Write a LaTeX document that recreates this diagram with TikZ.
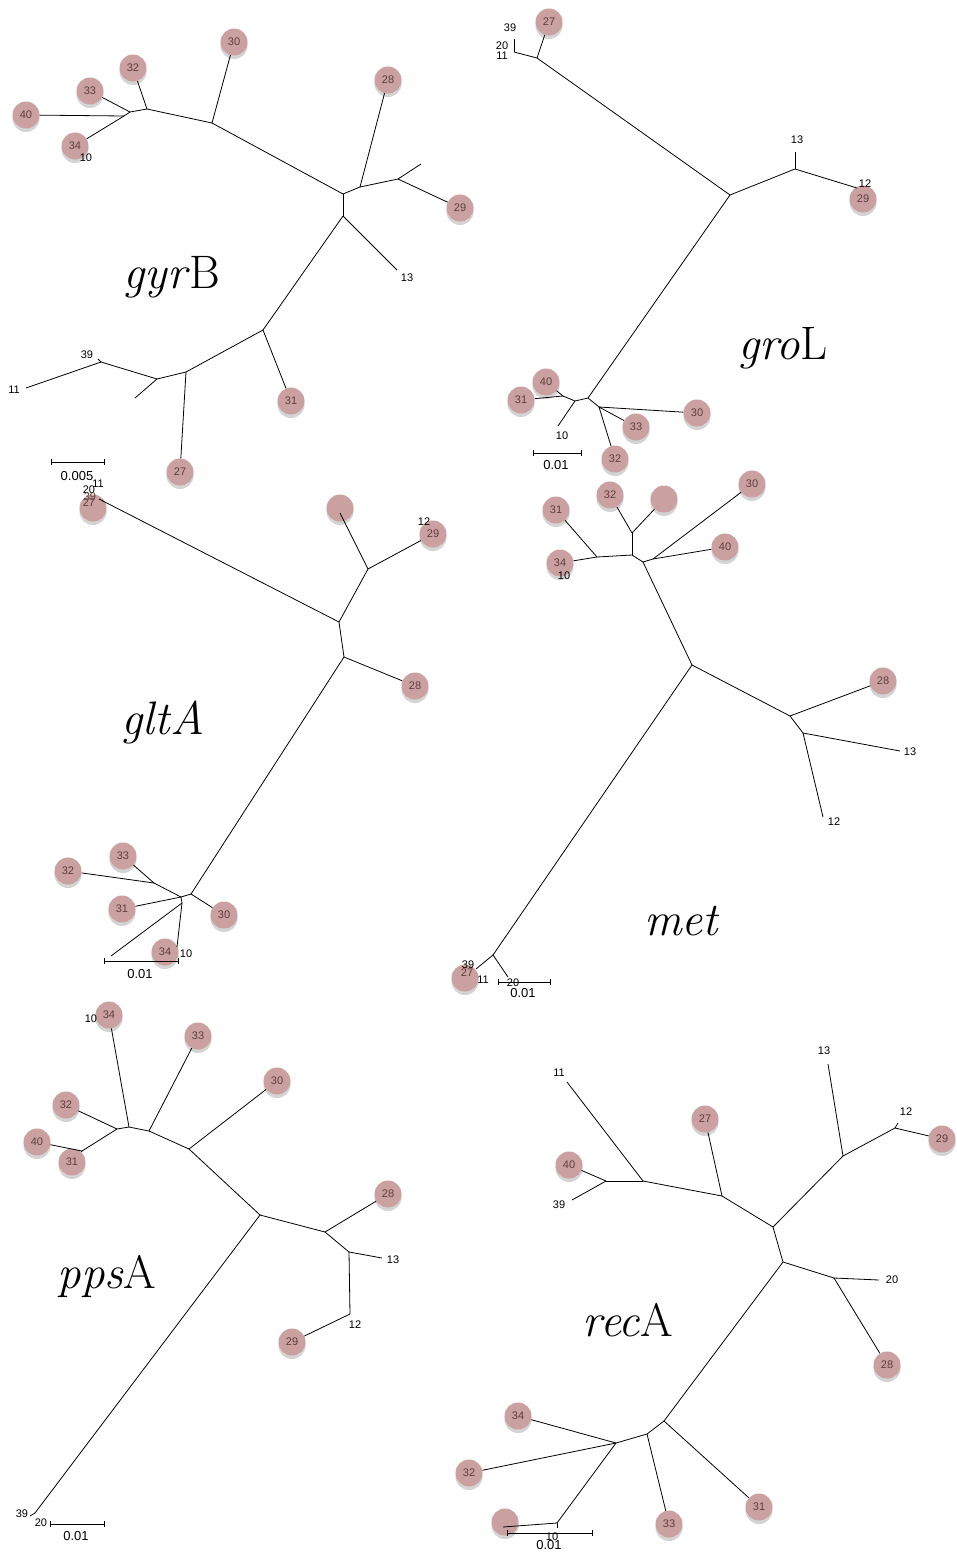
\documentclass[tikz,border=0pt]{standalone}
\usepackage{fontspec}
\setsansfont{Liberation Sans}
\usetikzlibrary{shadows}
\definecolor{leafpink}{RGB}{203,160,160}
\definecolor{leafshade}{RGB}{212,212,212}
\definecolor{leaftext}{RGB}{95,62,62}
\newcommand{\labfont}{\fontsize{11}{12}\selectfont\sffamily}
\newcommand{\scalefont}{\fontsize{13}{14}\selectfont\sffamily}
\newcommand{\genefont}{\fontsize{47}{52}\selectfont}
\tikzset{
  leaf/.style={circle, fill=leafpink, minimum size=27pt, inner sep=0pt, font=\labfont, text=leaftext,
    drop shadow={shadow xshift=0pt, shadow yshift=-3.5pt, fill=leafshade, opacity=1}},
  branch/.style={line width=0.8pt, black},
  tiplab/.style={font=\labfont, inner sep=0pt, text=black},
  intlab/.style={font=\labfont, inner sep=0pt, text=leaftext},
  scalelab/.style={font=\scalefont, inner sep=0pt, text=black},
  gene/.style={font=\genefont, inner sep=0pt},
  sbar/.style={line width=0.8pt, black},
}
\begin{document}
\begin{tikzpicture}[x=1pt,y=-1pt]
\useasboundingbox (0,0) rectangle (956,1553);
\fill[white] (0,0) rectangle (956,1553);

% ================= gyrB =================
\node[leaf] (gy30) at (234,42) {30};
\node[leaf] (gy32) at (133,68) {32};
\node[leaf] (gy33) at (90,91) {33};
\node[leaf] (gy40) at (26,115) {40};
\node[leaf] (gy34) at (75,146) {34};
\node[leaf] (gy28) at (388,80) {28};
\node[leaf] (gy29) at (460,208) {29};
\node[leaf] (gy31) at (291,401) {31};
\node[leaf] (gy27) at (180,472) {27};
\coordinate (gyA) at (124,116);
\coordinate (gyB) at (130,112);
\coordinate (gyC) at (147,109);
\coordinate (gyD) at (212,123);
\coordinate (gyE) at (343,194);
\coordinate (gyG) at (360,187);
\coordinate (gyH) at (398,179);
\coordinate (gyU) at (421,164);
\coordinate (gyI) at (343,216);
\coordinate (gyT13) at (397,270);
\coordinate (gyJ) at (263,330);
\coordinate (gyK) at (186,372);
\coordinate (gyL) at (157,379);
\coordinate (gyU2) at (135,398);
\coordinate (gyM) at (101,362);
\coordinate (gyT39) at (98,359);
\coordinate (gyT11) at (26,388);
\draw[branch] (gy40) -- (gyA); \draw[branch] (gy34) -- (gyA);
\draw[branch] (gyA) -- (gyB); \draw[branch] (gy33) -- (gyB);
\draw[branch] (gyB) -- (gyC); \draw[branch] (gy32) -- (gyC);
\draw[branch] (gyC) -- (gyD); \draw[branch] (gy30) -- (gyD);
\draw[branch] (gyD) -- (gyE); \draw[branch] (gyE) -- (gyG);
\draw[branch] (gyG) -- (gy28); \draw[branch] (gyG) -- (gyH);
\draw[branch] (gyH) -- (gyU); \draw[branch] (gyH) -- (gy29);
\draw[branch] (gyE) -- (gyI); \draw[branch] (gyI) -- (gyT13);
\draw[branch] (gyI) -- (gyJ); \draw[branch] (gyJ) -- (gy31);
\draw[branch] (gyJ) -- (gyK); \draw[branch] (gyK) -- (gy27);
\draw[branch] (gyK) -- (gyL); \draw[branch] (gyL) -- (gyU2);
\draw[branch] (gyL) -- (gyM); \draw[branch] (gyM) -- (gyT39);
\draw[branch] (gyM) -- (gyT11);
\node[tiplab] (gyl10) at (86,158) {10};
\node[tiplab] (gyl13) at (407,278) {13};
\node[tiplab] (gyl39) at (87,355) {39};
\node[tiplab] (gyl11) at (14,390) {11};
\node[gene] (gyname) at (172,277) {\textit{gyr}B};
\coordinate (gySa) at (51,462); \coordinate (gySb) at (104,462);
\draw[sbar] (gySa) -- (gySb);
\draw[sbar] ([yshift=3pt]gySa) -- ([yshift=-3pt]gySa);
\draw[sbar] ([yshift=3pt]gySb) -- ([yshift=-3pt]gySb);
\node[scalelab] (gyscale) at (77,476) {0.005};

% ================= groL =================
\node[leaf] (gr27) at (549,22) {27};
\node[leaf] (gr29) at (863,199) {29};
\node[leaf] (gr40) at (546,382) {40};
\node[leaf] (gr31) at (521,400) {31};
\node[leaf] (gr30) at (697,413) {30};
\node[leaf] (gr33) at (636,427) {33};
\node[leaf] (gr32) at (615,459) {32};
\coordinate (grA) at (514,52);
\coordinate (grT39) at (514,39);
\coordinate (grB) at (537,58);
\coordinate (grC) at (730,195);
\coordinate (grD) at (795,169);
\coordinate (grT13) at (795,152);
\coordinate (grT12) at (857,188);
\coordinate (grE) at (588,398);
\coordinate (grF) at (575,401);
\coordinate (grG) at (563,396);
\coordinate (grT10) at (558,426);
\coordinate (grH) at (599,407);
\draw[branch] (grA) -- (grT39); \draw[branch] (grA) -- (grB);
\draw[branch] (grB) -- (gr27); \draw[branch] (grB) -- (grC);
\draw[branch] (grC) -- (grD); \draw[branch] (grD) -- (grT13);
\draw[branch] (grD) -- (grT12); \draw[branch] (grC) -- (grE);
\draw[branch] (grE) -- (grF); \draw[branch] (grF) -- (grG);
\draw[branch] (grG) -- (gr40); \draw[branch] (grG) -- (gr31);
\draw[branch] (grF) -- (grT10); \draw[branch] (grE) -- (grH);
\draw[branch] (grH) -- (gr30); \draw[branch] (grH) -- (gr33);
\draw[branch] (grH) -- (gr32);
\node[tiplab] (grl39) at (510,28) {39};
\node[tiplab] (grl20) at (502,46) {20};
\node[tiplab] (grl11) at (502,56) {11};
\node[tiplab] (grl13) at (797,140) {13};
\node[tiplab] (grl12) at (865,184) {12};
\node[tiplab] (grl10) at (562,436) {10};
\node[gene] (grname) at (783,348) {\textit{gro}L};
\coordinate (grSa) at (533,453); \coordinate (grSb) at (581,453);
\draw[sbar] (grSa) -- (grSb);
\draw[sbar] ([yshift=3pt]grSa) -- ([yshift=-3pt]grSa);
\draw[sbar] ([yshift=3pt]grSb) -- ([yshift=-3pt]grSb);
\node[scalelab] (grscale) at (556,465) {0.01};

% ================= gltA =================
\node[leaf] (gl27) at (93,508) {};
\node[leaf] (glU) at (340,508) {};
\node[leaf] (gl29) at (433,534) {29};
\node[leaf] (gl28) at (415,686) {28};
\node[leaf] (gl33) at (123,856) {33};
\node[leaf] (gl32) at (68,871) {32};
\node[leaf] (gl31) at (122,909) {31};
\node[leaf] (gl30) at (224,915) {30};
\node[leaf] (gl34) at (165,952) {34};
\coordinate (glT) at (99,499);
\coordinate (glTU) at (340,513);
\coordinate (glB) at (339,622);
\coordinate (glC) at (368,569);
\coordinate (glD) at (344,657);
\coordinate (glE) at (191,894);
\coordinate (glF) at (181,897);
\coordinate (glG) at (154,883);
\coordinate (glH) at (182,903);
\coordinate (glTu) at (111,956);
\coordinate (glT10) at (177,947);
\draw[branch] (glT) -- (glB); \draw[branch] (glB) -- (glC);
\draw[branch] (glC) -- (glTU); \draw[branch] (glC) -- (gl29);
\draw[branch] (glB) -- (glD); \draw[branch] (glD) -- (gl28);
\draw[branch] (glD) -- (glE); \draw[branch] (glE) -- (gl30);
\draw[branch] (glE) -- (glF); \draw[branch] (glF) -- (glG);
\draw[branch] (glG) -- (gl33); \draw[branch] (glG) -- (gl32);
\draw[branch] (glF) -- (gl31); \draw[branch] (glF) -- (glH);
\draw[branch] (glH) -- (glTu); \draw[branch] (glH) -- (glT10);
\node[tiplab] (gll11) at (98,484) {11};
\node[tiplab] (gll20) at (89,490) {20};
\node[intlab] (gll39) at (90,497) {39};
\node[intlab] (gll27) at (89,503) {27};
\node[tiplab] (gll12) at (424,522) {12};
\node[tiplab] (gll10) at (186,954) {10};
\node[gene] (glname) at (163,723) {\textit{gltA}};
\coordinate (glSa) at (104,961); \coordinate (glSb) at (178,961);
\draw[sbar] (glSa) -- (glSb);
\draw[sbar] ([yshift=3pt]glSa) -- ([yshift=-3pt]glSa);
\draw[sbar] ([yshift=3pt]glSb) -- ([yshift=-3pt]glSb);
\node[scalelab] (glscale) at (140,974) {0.01};

% ================= met =================
\node[leaf] (me30) at (752,484) {30};
\node[leaf] (me32) at (610,495) {32};
\node[leaf] (meU) at (664,499) {};
\node[leaf] (me31) at (556,510) {31};
\node[leaf] (me34) at (560,563) {34};
\node[leaf] (me40) at (725,547) {40};
\node[leaf] (me28) at (883,681) {28};
\node[leaf] (me27) at (465,978) {};
\coordinate (meA) at (597,557);
\coordinate (meB) at (632,555);
\coordinate (meC) at (632,533);
\coordinate (meD) at (643,562);
\coordinate (meE) at (653,559);
\coordinate (meF) at (692,665);
\coordinate (meG) at (790,716);
\coordinate (meH) at (803,733);
\coordinate (meT13) at (900,751);
\coordinate (meT12) at (823,817);
\coordinate (meI) at (493,955);
\coordinate (meT20) at (508,977);
\coordinate (meT39) at (476,969);
\draw[branch] (meA) -- (me31); \draw[branch] (meA) -- (me34);
\draw[branch] (meA) -- (meB); \draw[branch] (meB) -- (meC);
\draw[branch] (meC) -- (me32); \draw[branch] (meC) -- (meU);
\draw[branch] (meB) -- (meD); \draw[branch] (meD) -- (meE);
\draw[branch] (meE) -- (me30); \draw[branch] (meE) -- (me40);
\draw[branch] (meD) -- (meF); \draw[branch] (meF) -- (meG);
\draw[branch] (meG) -- (me28); \draw[branch] (meG) -- (meH);
\draw[branch] (meH) -- (meT13); \draw[branch] (meH) -- (meT12);
\draw[branch] (meF) -- (meI); \draw[branch] (meI) -- (meT20);
\draw[branch] (meI) -- (meT39);
\node[tiplab] (mel10) at (564,576) {10};
\node[tiplab] (mel13) at (910,752) {13};
\node[tiplab] (mel12) at (834,822) {12};
\node[tiplab] (mel39) at (468,965) {39};
\node[intlab] (mel27) at (467,973) {27};
\node[tiplab] (mel11) at (483,980) {11};
\node[gene] (mename) at (682,921) {\textit{met}};
\coordinate (meSa) at (498,982); \coordinate (meSb) at (550,982);
\draw[sbar] (meSa) -- (meSb);
\draw[sbar] ([yshift=3pt]meSa) -- ([yshift=-3pt]meSa);
\draw[sbar] ([yshift=3pt]meSb) -- ([yshift=-3pt]meSb);
\node[tiplab] (mel20) at (513,983) {20};
\node[scalelab] (mescale) at (523,993) {0.01};

% ================= ppsA =================
\node[leaf] (pp34) at (109,1015) {34};
\node[leaf] (pp33) at (198,1036) {33};
\node[leaf] (pp30) at (277,1081) {30};
\node[leaf] (pp32) at (66,1105) {32};
\node[leaf] (pp40) at (37,1142) {40};
\node[leaf] (pp31) at (72,1162) {31};
\node[leaf] (pp28) at (388,1194) {28};
\node[leaf] (pp29) at (292,1342) {29};
\coordinate (ppA) at (82,1151);
\coordinate (ppB) at (117,1129);
\coordinate (ppC) at (129,1127);
\coordinate (ppD) at (149,1131);
\coordinate (ppE) at (189,1149);
\coordinate (ppF) at (260,1215);
\coordinate (ppG) at (325,1232);
\coordinate (ppH) at (349,1252);
\coordinate (ppT13) at (382,1258);
\coordinate (ppI) at (350,1314);
\coordinate (ppJ) at (35,1513);
\coordinate (ppT39) at (30,1516);
\draw[branch] (ppA) -- (pp40); \draw[branch] (ppA) -- (pp31);
\draw[branch] (ppA) -- (ppB); \draw[branch] (ppB) -- (pp32);
\draw[branch] (ppB) -- (ppC); \draw[branch] (ppC) -- (pp34);
\draw[branch] (ppC) -- (ppD); \draw[branch] (ppD) -- (pp33);
\draw[branch] (ppD) -- (ppE); \draw[branch] (ppE) -- (pp30);
\draw[branch] (ppE) -- (ppF); \draw[branch] (ppF) -- (ppG);
\draw[branch] (ppG) -- (pp28); \draw[branch] (ppG) -- (ppH);
\draw[branch] (ppH) -- (ppT13); \draw[branch] (ppH) -- (ppI);
\draw[branch] (ppI) -- (pp29); \draw[branch] (ppF) -- (ppJ);
\draw[branch] (ppJ) -- (ppT39);
\node[tiplab] (ppl10) at (91,1019) {10};
\node[tiplab] (ppl13) at (393,1260) {13};
\node[tiplab] (ppl12) at (355,1325) {12};
\node[tiplab] (ppl39) at (22,1514) {39};
\node[tiplab] (ppl20) at (41,1523) {20};
\node[gene] (ppname) at (107,1276) {\textit{pps}A};
\coordinate (ppSa) at (50,1524); \coordinate (ppSb) at (104,1524);
\draw[sbar] (ppSa) -- (ppSb);
\draw[sbar] ([yshift=3pt]ppSa) -- ([yshift=-3pt]ppSa);
\draw[sbar] ([yshift=3pt]ppSb) -- ([yshift=-3pt]ppSb);
\node[scalelab] (ppscale) at (76,1536) {0.01};

% ================= recA =================
\node[leaf] (re27) at (705,1119) {27};
\node[leaf] (re29) at (942,1139) {29};
\node[leaf] (re40) at (569,1165) {40};
\node[leaf] (re28) at (887,1365) {28};
\node[leaf] (re31) at (759,1507) {31};
\node[leaf] (re33) at (669,1524) {33};
\node[leaf] (re34) at (518,1416) {34};
\node[leaf] (re32) at (469,1473) {32};
\node[leaf] (reU) at (505,1522) {};
\coordinate (reA) at (606,1181);
\coordinate (reB) at (643,1181);
\coordinate (reC) at (722,1196);
\coordinate (reD) at (773,1227);
\coordinate (reE) at (783,1262);
\coordinate (reF) at (834,1278);
\coordinate (reG) at (843,1156);
\coordinate (reH) at (895,1128);
\coordinate (reT11) at (567,1082);
\coordinate (reT13) at (828,1064);
\coordinate (reT12) at (898,1123);
\coordinate (reT39) at (572,1200);
\coordinate (reT20) at (879,1280);
\coordinate (reI) at (664,1421);
\coordinate (reJ) at (647,1434);
\coordinate (reK) at (616,1443);
\coordinate (reL) at (557,1523);
\coordinate (reT10) at (557,1528);
\coordinate (reTU) at (503,1527);
\draw[branch] (reA) -- (re40); \draw[branch] (reA) -- (reT39);
\draw[branch] (reA) -- (reB); \draw[branch] (reB) -- (reT11);
\draw[branch] (reB) -- (reC); \draw[branch] (reC) -- (re27);
\draw[branch] (reC) -- (reD); \draw[branch] (reD) -- (reG);
\draw[branch] (reG) -- (reT13); \draw[branch] (reG) -- (reH);
\draw[branch] (reH) -- (reT12); \draw[branch] (reH) -- (re29);
\draw[branch] (reD) -- (reE); \draw[branch] (reE) -- (reF);
\draw[branch] (reF) -- (reT20); \draw[branch] (reF) -- (re28);
\draw[branch] (reE) -- (reI); \draw[branch] (reI) -- (re31);
\draw[branch] (reI) -- (reJ); \draw[branch] (reJ) -- (re33);
\draw[branch] (reJ) -- (reK); \draw[branch] (reK) -- (re34);
\draw[branch] (reK) -- (re32); \draw[branch] (reK) -- (reL);
\draw[branch] (reL) -- (reTU); \draw[branch] (reL) -- (reT10);
\node[tiplab] (rel11) at (559,1073) {11};
\node[tiplab] (rel13) at (824,1051) {13};
\node[tiplab] (rel12) at (906,1112) {12};
\node[tiplab] (rel39) at (559,1205) {39};
\node[tiplab] (rel20) at (892,1280) {20};
\node[gene] (rename) at (628,1320) {\textit{rec}A};
\coordinate (reSa) at (507,1533); \coordinate (reSb) at (592,1533);
\draw[sbar] (reSa) -- (reSb);
\draw[sbar] ([yshift=3pt]reSa) -- ([yshift=-3pt]reSa);
\draw[sbar] ([yshift=3pt]reSb) -- ([yshift=-3pt]reSb);
\node[tiplab] (rel10) at (552,1537) {10};
\node[scalelab] (rescale) at (549,1545) {0.01};
\end{tikzpicture}
\end{document}
